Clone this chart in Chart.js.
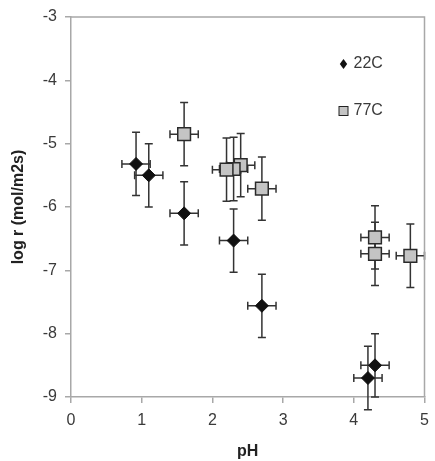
<!DOCTYPE html>
<html>
<head>
<meta charset="utf-8">
<script src="https://cdn.jsdelivr.net/npm/chart.js@4/dist/chart.umd.min.js"></script>
<style>
  html, body { margin: 0; padding: 0; background: #fff; }
  #wrap { width: 435px; height: 461px; }
</style>
</head>
<body>
<div id="wrap"><canvas id="c" width="435" height="461"></canvas></div>
<script>
// pH / log r readings, estimated from the original figure
const labels22 = '22C';
const ph22 = [0.92, 1.1, 1.6, 2.3, 2.7, 4.3, 4.2];
const logr22 = [-5.32, -5.5, -6.1, -6.53, -7.56, -8.5, -8.7];

const labels77 = '77C';
const ph77 = [1.6, 2.7, 2.4, 2.3, 2.2, 4.3, 4.3, 4.8];
const logr77 = [-4.85, -5.71, -5.34, -5.4, -5.41, -6.48, -6.74, -6.77];

// error bar half-widths (same for every point)
const phErr = 0.2;
const logrErr = 0.5;

const xTicks = [0, 1, 2, 3, 4, 5];
const yTicks = [-9, -8, -7, -6, -5, -4, -3];

const toPoints = (xs, ys) => xs.map((x, i) => ({ x: x, y: ys[i] }));

const textColor = '#3a3a3a';
const axisColor = '#a8a8a8';
const family = '"Liberation Sans", Arial, sans-serif';

// draws x/y error bars under the markers of each dataset
const errorBars = {
    id: 'errorBars',
    beforeDatasetDraw(chart, args) {
        const ctx = chart.ctx;
        const xs = chart.scales.x, ys = chart.scales.y;
        const cap = 4;
        ctx.save();
        ctx.strokeStyle = '#333';
        ctx.lineWidth = 1.5;
        chart.data.datasets[args.index].data.forEach(p => {
            const px = xs.getPixelForValue(p.x);
            const py = ys.getPixelForValue(p.y);
            const top = ys.getPixelForValue(p.y + logrErr);
            const bot = ys.getPixelForValue(p.y - logrErr);
            const lft = xs.getPixelForValue(p.x - phErr);
            const rgt = xs.getPixelForValue(p.x + phErr);
            ctx.beginPath();
            ctx.moveTo(px, top); ctx.lineTo(px, bot);
            ctx.moveTo(px - cap, top); ctx.lineTo(px + cap, top);
            ctx.moveTo(px - cap, bot); ctx.lineTo(px + cap, bot);
            ctx.moveTo(lft, py); ctx.lineTo(rgt, py);
            ctx.moveTo(lft, py - cap); ctx.lineTo(lft, py + cap);
            ctx.moveTo(rgt, py - cap); ctx.lineTo(rgt, py + cap);
            ctx.stroke();
        });
        ctx.restore();
    }
};

// plot-area frame plus the in-plot legend
const frameAndLegend = {
    id: 'frameAndLegend',
    afterDraw(chart) {
        const ctx = chart.ctx;
        const a = chart.chartArea;
        ctx.save();
        ctx.strokeStyle = axisColor;
        ctx.lineWidth = 1.5;
        ctx.beginPath();
        ctx.moveTo(a.left, a.top); ctx.lineTo(a.right, a.top); ctx.lineTo(a.right, a.bottom);
        ctx.stroke();

        const lx = a.right - 81;
        const ly1 = a.top + 47;
        const ly2 = a.top + 94;
        // diamond
        ctx.fillStyle = '#111';
        ctx.beginPath();
        ctx.moveTo(lx, ly1 - 5); ctx.lineTo(lx + 3.7, ly1); ctx.lineTo(lx, ly1 + 5); ctx.lineTo(lx - 3.7, ly1);
        ctx.closePath();
        ctx.fill();
        // square
        ctx.fillStyle = '#c4c4c4';
        ctx.strokeStyle = '#222';
        ctx.lineWidth = 1;
        ctx.fillRect(lx - 4.5, ly2 - 4.5, 9, 9);
        ctx.strokeRect(lx - 4.5, ly2 - 4.5, 9, 9);

        ctx.fillStyle = textColor;
        ctx.font = '16px ' + family;
        ctx.textBaseline = 'middle';
        ctx.fillText(chart.data.datasets[0].label, lx + 10, ly1);
        ctx.fillText(chart.data.datasets[1].label, lx + 10, ly2);
        ctx.restore();
    }
};

const font = { family: family, size: 16 };

new Chart(document.getElementById('c'), {
    type: 'scatter',
    data: {
        datasets: [
            {
                label: labels22,
                data: toPoints(ph22, logr22),
                pointStyle: 'rectRot',
                pointRadius: 6.5,
                backgroundColor: '#111',
                borderColor: '#111',
                borderWidth: 1
            },
            {
                label: labels77,
                data: toPoints(ph77, logr77),
                pointStyle: 'rect',
                pointRadius: 9,
                backgroundColor: '#c4c4c4',
                borderColor: '#2a2a2a',
                borderWidth: 1.5
            }
        ]
    },
    options: {
        responsive: false,
        animation: false,
        layout: { padding: { top: 17, right: 9, left: 0, bottom: 0 } },
        plugins: {
            legend: { display: false },
            tooltip: { enabled: false }
        },
        scales: {
            x: {
                type: 'linear',
                min: 0, max: 5,
                afterBuildTicks: s => { s.ticks = xTicks.map(v => ({ value: v })); },
                afterFit: s => { s.height = 64; s.paddingLeft = 0; s.paddingRight = 0; },
                border: { color: axisColor, width: 1.5 },
                grid: { drawOnChartArea: false, drawTicks: true, tickLength: 6, color: axisColor, lineWidth: 1.5 },
                ticks: { color: textColor, font: font, padding: 8, maxRotation: 0 },
                title: {
                    display: true, text: 'pH', color: '#222',
                    font: { family: family, size: 16, weight: 'bold' },
                    padding: { top: 2, bottom: 0 }
                }
            },
            y: {
                type: 'linear',
                min: -9, max: -3,
                afterBuildTicks: s => { s.ticks = yTicks.map(v => ({ value: v })); },
                afterFit: s => { s.width = 71; s.paddingTop = 0; s.paddingBottom = 0; },
                border: { color: axisColor, width: 1.5 },
                grid: { drawOnChartArea: false, drawTicks: true, tickLength: 6, color: axisColor, lineWidth: 1.5 },
                ticks: { color: textColor, font: font, padding: 8 },
                title: {
                    display: true, text: 'log r (mol/m2s)', color: '#222',
                    font: { family: family, size: 16, weight: 'bold' },
                    padding: { top: 9, bottom: 0 }
                }
            }
        }
    },
    plugins: [errorBars, frameAndLegend]
});
</script>
</body>
</html>
